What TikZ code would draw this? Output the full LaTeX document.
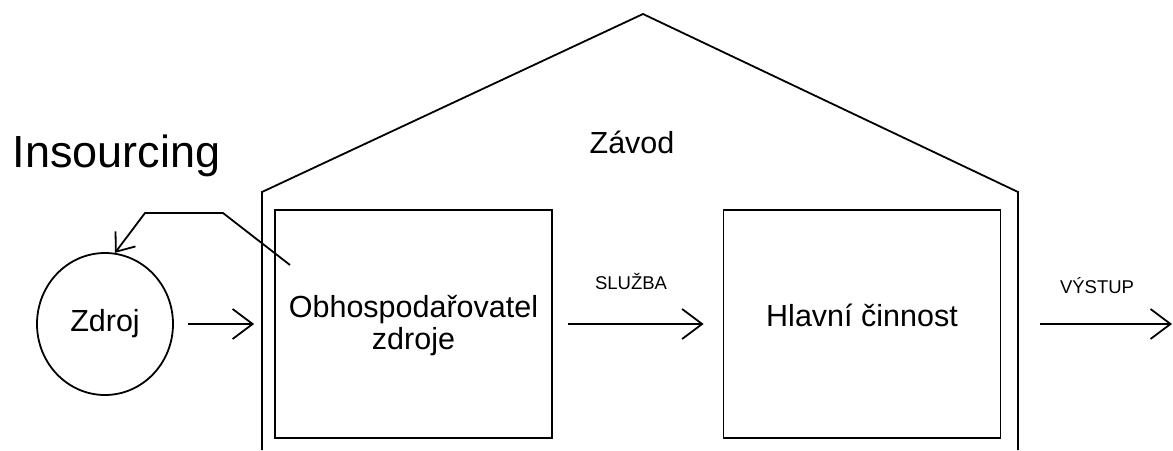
\documentclass[tikz,border=0pt]{standalone}
\usepackage{fontspec}
\setmainfont{Liberation Sans}
\usetikzlibrary{arrows.meta,shapes.geometric}
\begin{document}
\begin{tikzpicture}[x=1pt,y=-1pt,line width=1.8pt,
  every node/.style={inner sep=0pt},
  arr/.style={-{Straight Barb[length=20pt,width=30pt]}},
  arrsmall/.style={-{Straight Barb[length=16pt,width=25pt]}},
  bigtext/.style={font=\fontsize{30.5}{32}\selectfont},
  box/.style={draw, rectangle, minimum width=277pt, minimum height=228pt,
    align=center, bigtext},
  lbl/.style={font=\fontsize{18.5}{22}\selectfont, anchor=base}]
\useasboundingbox (0,0) rectangle (1173,450);
\fill[white] (0,0) rectangle (1173,450);
% house outline
\draw (262,450) -- (262,192) -- (643,14) -- (1018,192) -- (1018,450);
% nodes
\node[draw, ellipse, minimum width=136pt, minimum height=142pt, bigtext] (zdroj) at (105,324) {Zdroj};
\node[box] (obh) at (413.5,324) {\rule{0pt}{26pt}Obhospodařovatel\\zdroje};
\node[box, text height=0.75em, text depth=0.3em] (hc) at (862,324) {Hlavní činnost};
\coordinate (out) at (1172,324);
\coordinate (fb) at (290,265);
% texts
\node[font=\fontsize{45}{50}\selectfont, anchor=base west] (ins) at (12,167) {Insourcing};
\node[bigtext, anchor=base] (zav) at (632,153) {Závod};
\node[lbl] (sl) at (631,289) {SLUŽBA};
\node[lbl] (vy) at (1097,293) {VÝSTUP};
% connectors
\draw[arr] ([xshift=14pt]zdroj.east) -- ([xshift=-20pt]obh.west);
\draw[arr] ([xshift=15pt]obh.east) -- ([xshift=-19pt]hc.west);
\draw[arr] ([xshift=39pt]hc.east) -- (out);
\draw[arrsmall] (fb) -- (223,213) -- (145,213) -- (zdroj.82);
\end{tikzpicture}
\end{document}
